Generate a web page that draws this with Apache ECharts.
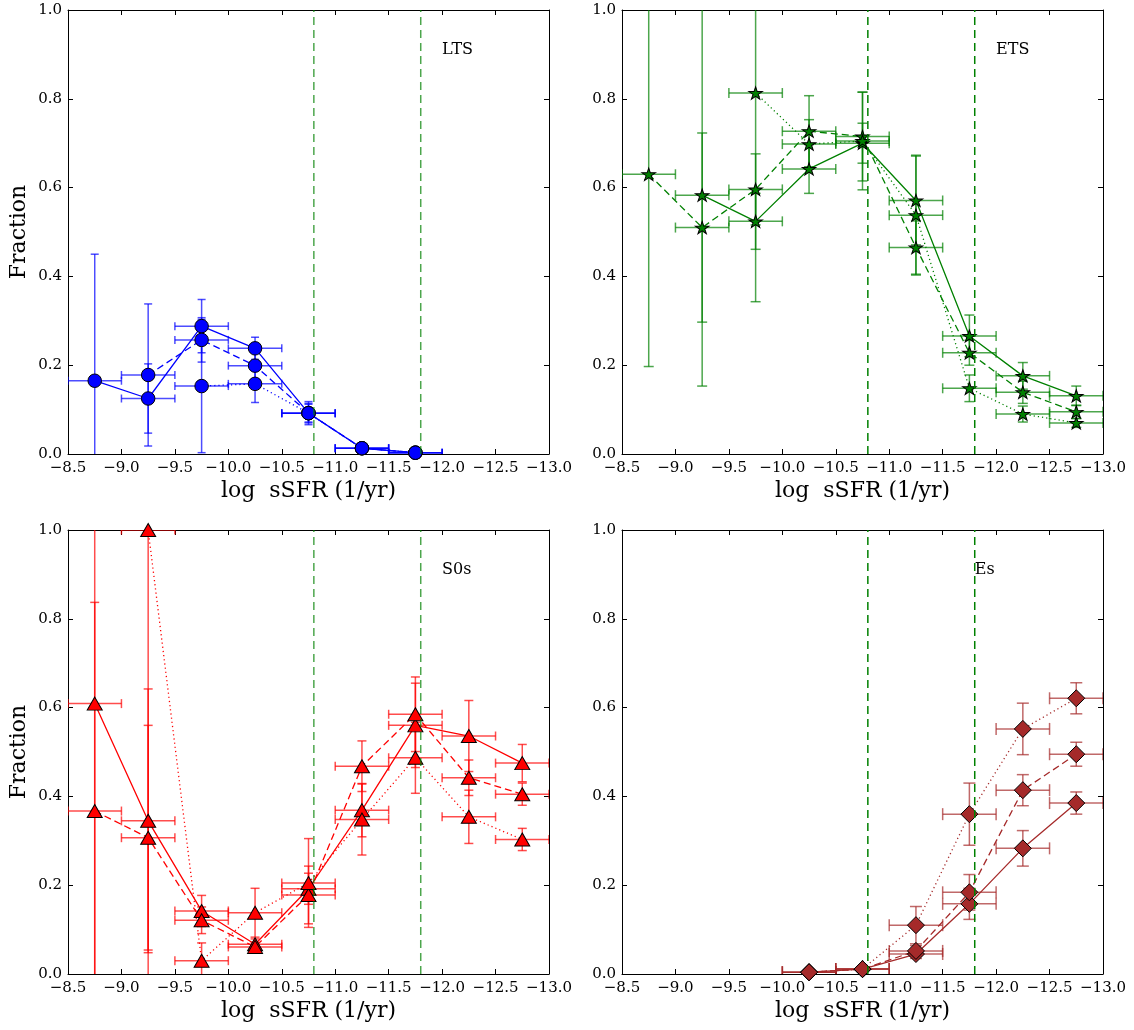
<!DOCTYPE html>
<html>
<head>
<meta charset="utf-8">
<title>Fractions vs log sSFR</title>
<script src="https://cdn.jsdelivr.net/npm/echarts@6/dist/echarts.min.js"></script>
<style>
  html, body { margin: 0; padding: 0; background: #ffffff; }
  #chart { width: 1134px; height: 1030px; }
</style>
</head>
<body>
<div id="chart"></div>
<script>
// sSFR bin centres (log, 1/yr) and half bin width used for horizontal error bars
const xBins = [-8.75, -9.25, -9.75, -10.25, -10.75, -11.25, -11.75, -12.25, -12.75];
const binHalfWidth = 0.25;
// sSFR thresholds marked with vertical dashed lines
const sfrThresholds = [-10.8, -11.8];

// Late-type spirals
const ltsSolid     = [0.165, 0.125, 0.288, 0.238, 0.092, 0.013, 0.003, null, null];
const ltsSolidErr  = [0.285, 0.078, 0.060, 0.025, 0.026, 0.004, 0.002, null, null];
const ltsDashed    = [null, 0.178, 0.257, 0.199, 0.092, 0.013, 0.003, null, null];
const ltsDashedErr = [null, 0.160, 0.050, 0.030, 0.020, 0.004, 0.002, null, null];
const ltsDotted    = [null, null, 0.153, 0.158, 0.092, 0.013, 0.003, null, null];
const ltsDottedErr = [null, null, 0.150, 0.042, 0.022, 0.004, 0.002, null, null];

// Early-type spirals
const etsSolid     = [null, 0.583, 0.524, 0.642, 0.700, 0.571, 0.266, 0.176, 0.131];
const etsSolidErr  = [null, 0.430, 0.063, 0.055, 0.045, 0.100, 0.047, 0.030, 0.022];
const etsDashed    = [0.630, 0.510, 0.596, 0.727, 0.715, 0.465, 0.228, 0.139, 0.095];
const etsDashedErr = [0.433, 0.213, 0.080, 0.080, 0.100, 0.060, 0.028, 0.025, 0.015];
const etsDotted    = [null, null, 0.813, 0.698, 0.705, 0.538, 0.148, 0.090, 0.070];
const etsDottedErr = [null, null, 0.470, 0.055, 0.110, 0.135, 0.030, 0.018, 0.010];

// Lenticulars
const s0Solid      = [0.609, 0.345, 0.142, 0.067, 0.192, 0.369, 0.560, 0.536, 0.475];
const s0SolidErr   = [0.700, 0.297, 0.035, 0.012, 0.035, 0.060, 0.095, 0.080, 0.042];
const s0Dashed     = [0.367, 0.307, 0.121, 0.061, 0.178, 0.468, 0.585, 0.442, 0.405];
const s0DashedErr  = [0.470, 0.253, 0.030, 0.010, 0.065, 0.057, 0.084, 0.040, 0.025];
const s0Dotted     = [null, 1.000, 0.030, 0.138, 0.205, 0.348, 0.487, 0.354, 0.303];
const s0DottedErr  = [null, 1.050, 0.040, 0.055, 0.100, 0.080, 0.080, 0.060, 0.025];

// Ellipticals
const esSolid      = [null, null, null, 0.004, 0.011, 0.045, 0.158, 0.283, 0.385];
const esSolidErr   = [null, null, null, 0.003, 0.005, 0.010, 0.035, 0.040, 0.025];
const esDashed     = [null, null, null, 0.004, 0.011, 0.052, 0.184, 0.414, 0.495];
const esDashedErr  = [null, null, null, 0.003, 0.005, 0.012, 0.040, 0.035, 0.027];
const esDotted     = [null, null, null, 0.004, 0.011, 0.110, 0.360, 0.552, 0.621];
const esDottedErr  = [null, null, null, 0.003, 0.005, 0.042, 0.070, 0.058, 0.035];

// Panel text labels and where they sit (x in log sSFR, y in fraction)
const panelNames = ['LTS', 'ETS', 'S0s', 'Es'];
const panelLabelX = [-12.0, -12.0, -12.0, -11.8];
const panelLabelY = 0.9;

const SERIF = '"DejaVu Serif", serif';
const STAR = 'path://M100,0 L122.45,69.1 L195.11,69.1 L136.33,111.8 L158.78,180.9 L100,138.2 L41.22,180.9 L63.67,111.8 L4.89,69.1 L77.55,69.1 Z';

const panels = [
  { grid: { left: 68, top: 10, width: 481, height: 444 }, color: '#0000ff', symbol: 'circle', size: 13.5, cap: 4,
    vAlpha: 0.7, sets: [[ltsSolid, ltsSolidErr], [ltsDashed, ltsDashedErr], [ltsDotted, ltsDottedErr]], yName: true },
  { grid: { left: 622, top: 10, width: 481, height: 444 }, color: '#008000', symbol: STAR, size: [13.5, 12.8], cap: 5,
    vAlpha: 1, sets: [[etsSolid, etsSolidErr], [etsDashed, etsDashedErr], [etsDotted, etsDottedErr]], yName: false },
  { grid: { left: 68, top: 530, width: 481, height: 444 }, color: '#ff0000', symbol: 'triangle', size: [15, 13], cap: 4.5,
    vAlpha: 0.7, sets: [[s0Solid, s0SolidErr], [s0Dashed, s0DashedErr], [s0Dotted, s0DottedErr]], yName: true },
  { grid: { left: 622, top: 530, width: 481, height: 444 }, color: '#a52a2a', symbol: 'diamond', size: 17, cap: 6,
    vAlpha: 1, sets: [[esSolid, esSolidErr], [esDashed, esDashedErr], [esDotted, esDottedErr]], yName: false }
];

const lineTypes = ['solid', [7, 4], [1.2, 3]];

function fmtTick(v) {
  return v.toFixed(1).replace('-', '\u2212');
}

function makeXAxes(gi) {
  const base = {
    gridIndex: gi, type: 'value', min: -13, max: -8.5, interval: 0.5, inverse: true,
    axisLine: { show: true, onZero: false, lineStyle: { color: '#000', width: 1 } },
    axisTick: { show: true, inside: true, length: 5, lineStyle: { color: '#000', width: 1 } },
    splitLine: { show: false }
  };
  return [
    Object.assign({}, base, {
      position: 'bottom',
      axisLabel: { show: true, formatter: fmtTick, fontFamily: SERIF, fontSize: 15, color: '#000', margin: 7,
                   showMinLabel: true, showMaxLabel: true, hideOverlap: false },
      name: 'log  sSFR (1/yr)', nameLocation: 'middle', nameGap: 26,
      nameTextStyle: { fontFamily: SERIF, fontSize: 22, color: '#000' }
    }),
    Object.assign({}, base, { position: 'top', axisLabel: { show: false } })
  ];
}

function makeYAxes(gi, withName) {
  const base = {
    gridIndex: gi, type: 'value', min: 0, max: 1, interval: 0.2,
    axisLine: { show: true, onZero: false, lineStyle: { color: '#000', width: 1 } },
    axisTick: { show: true, inside: true, length: 5, lineStyle: { color: '#000', width: 1 } },
    splitLine: { show: false }
  };
  const left = Object.assign({}, base, {
    position: 'left',
    axisLabel: { show: true, formatter: fmtTick, fontFamily: SERIF, fontSize: 15, color: '#000', margin: 6,
                 showMinLabel: true, showMaxLabel: true }
  });
  if (withName) {
    Object.assign(left, {
      name: 'Fraction', nameLocation: 'middle', nameGap: 38,
      nameTextStyle: { fontFamily: SERIF, fontSize: 22, color: '#000' }
    });
  }
  return [left, Object.assign({}, base, { position: 'right', axisLabel: { show: false } })];
}

// Error bars: vertical (value uncertainty) and horizontal (bin width), with caps
function errorBarItem(color, capHalf) {
  return function (params, api) {
    const x = api.value(0), y = api.value(1), e = api.value(2);
    const lo = Math.max(y - e, 0), hi = Math.min(y + e, 1);
    const pLo = api.coord([x, lo]);
    const pHi = api.coord([x, hi]);
    const pA = api.coord([x + binHalfWidth, y]);
    const pB = api.coord([x - binHalfWidth, y]);
    const style = { stroke: color, lineWidth: 1.5, opacity: 0.7 };
    const seg = (x1, y1, x2, y2) => ({ type: 'line', shape: { x1, y1, x2, y2 }, style });
    const children = [
      seg(pLo[0], pLo[1], pHi[0], pHi[1]),
      seg(pA[0], pA[1], pB[0], pB[1]),
      seg(pA[0], pA[1] - capHalf, pA[0], pA[1] + capHalf),
      seg(pB[0], pB[1] - capHalf, pB[0], pB[1] + capHalf)
    ];
    if (y + e <= 1) children.push(seg(pHi[0] - capHalf, pHi[1], pHi[0] + capHalf, pHi[1]));
    if (y - e >= 0) children.push(seg(pLo[0] - capHalf, pLo[1], pLo[0] + capHalf, pLo[1]));
    return { type: 'group', children };
  };
}

function thresholdItem(color, alpha) {
  return function (params, api) {
    const x = api.value(0);
    const p0 = api.coord([x, api.value(1)]);
    const p1 = api.coord([x, api.value(2)]);
    return {
      type: 'line',
      shape: { x1: p0[0], y1: p0[1], x2: p1[0], y2: p1[1] },
      style: { stroke: color, lineWidth: 1.5, lineDash: [8, 5], opacity: alpha }
    };
  };
}

const grids = [], xAxes = [], yAxes = [], series = [];
const lineSeriesIndex = [];

panels.forEach((p, gi) => {
  grids.push(Object.assign({ containLabel: false }, p.grid));
  xAxes.push(...makeXAxes(gi));
  yAxes.push(...makeYAxes(gi, p.yName));
  const axisRef = { xAxisIndex: gi * 2, yAxisIndex: gi * 2 };

  p.sets.forEach(([vals, errs], k) => {
    const errData = [];
    const lineData = [];
    xBins.forEach((x, i) => {
      if (vals[i] == null) return;
      lineData.push([x, vals[i]]);
      errData.push([x, vals[i], errs[i]]);
    });
    series.push(Object.assign({
      type: 'custom', z: 2, silent: true, clip: true,
      renderItem: errorBarItem(p.color, p.cap),
      encode: { x: 0, y: 1 },
      data: errData
    }, axisRef));
    if (k === 0) lineSeriesIndex.push(series.length);
    series.push(Object.assign({
      type: 'line', z: 3, silent: true, clip: true,
      data: lineData,
      symbol: p.symbol, symbolSize: p.size, symbolKeepAspect: true, showAllSymbol: true,
      lineStyle: { color: p.color, width: 1.3, type: lineTypes[k] },
      itemStyle: { color: p.color, borderColor: '#000', borderWidth: 1 },
      animation: false
    }, axisRef));
  });

  series.push(Object.assign({
    type: 'custom', z: 5, silent: true,
    renderItem: thresholdItem('#008000', p.vAlpha),
    encode: { x: 0, y: [1, 2] },
    data: sfrThresholds.map(v => [v, 0, 1])
  }, axisRef));
});

const chart = echarts.init(document.getElementById('chart'), null, { renderer: 'canvas' });
chart.setOption({
  backgroundColor: '#ffffff',
  animation: false,
  grid: grids,
  xAxis: xAxes,
  yAxis: yAxes,
  series: series
});

// Panel names placed in data coordinates of each panel
const labels = panelNames.map((name, i) => {
  const pt = chart.convertToPixel({ seriesIndex: lineSeriesIndex[i] }, [panelLabelX[i], panelLabelY]);
  return {
    type: 'text', x: pt[0], y: pt[1] + 3, z: 10,
    style: { text: name, font: '16px ' + SERIF, fill: '#000', align: 'left', verticalAlign: 'bottom' }
  };
});
chart.setOption({ graphic: labels });
</script>
</body>
</html>
